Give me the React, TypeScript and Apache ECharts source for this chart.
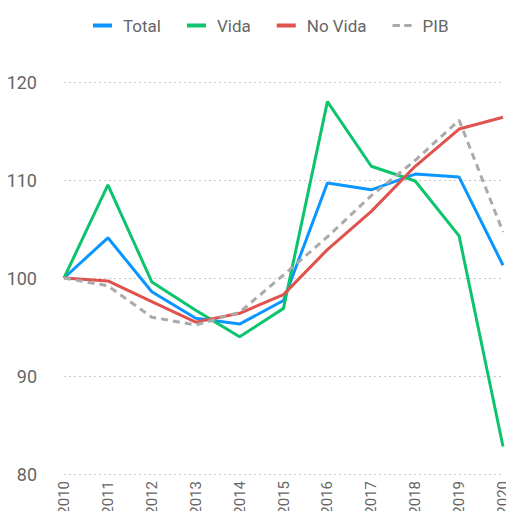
import React, { useEffect, useRef } from "react";
import * as echarts from "echarts";

const years = ["2010", "2011", "2012", "2013", "2014", "2015", "2016", "2017", "2018", "2019", "2020"];
const total = [100, 104.1, 98.6, 95.9, 95.3, 97.7, 109.7, 109.0, 110.6, 110.3, 101.3];
const vida = [100, 109.5, 99.6, 96.7, 94.0, 96.9, 118.0, 111.4, 109.9, 104.3, 82.8];
const noVida = [100, 99.7, 97.6, 95.5, 96.4, 98.3, 102.9, 106.8, 111.4, 115.2, 116.4];
const pib = [100, 99.2, 96.0, 95.2, 96.5, 100.3, 104.2, 108.4, 112.0, 116.1, 104.7];

const FONT = "Roboto, 'DejaVu Sans', sans-serif";

export default function App() {
  const ref = useRef<HTMLDivElement>(null);
  useEffect(() => {
    if (!ref.current) return;
    const chart = echarts.init(ref.current, null, { renderer: "svg" });
    const mk = (name: string, data: number[], color: string, dashed = false) => ({
      name,
      type: "line",
      data,
      symbol: "none",
      lineStyle: { color, width: 3, type: dashed ? [7, 5] : "solid" },
      itemStyle: { color },
    });
    chart.setOption({
      animation: false,
      textStyle: { fontFamily: FONT },
      legend: {
        top: 12,
        left: 88,
        itemWidth: 19,
        itemHeight: 4,
        itemGap: 26,
        textStyle: { color: "#666", fontSize: 17, fontFamily: FONT, padding: [0, 0, 0, 6] },
        data: [
          { name: "Total", icon: "rect" },
          { name: "Vida", icon: "rect" },
          { name: "No Vida", icon: "rect" },
          { name: "PIB", icon: "path://M0,0h7v3h-7z M11,0h7v3h-7z" },
        ],
      },
      grid: { left: 64, right: 11, top: 82, bottom: 45, outerBoundsMode: "none", containLabel: false },
      xAxis: {
        type: "category",
        data: years,
        boundaryGap: false,
        axisLine: { show: false },
        axisTick: { show: false },
        axisLabel: { rotate: 90, color: "#666", fontSize: 15, fontFamily: FONT, margin: 7 },
      },
      yAxis: {
        type: "value",
        min: 80,
        max: 120,
        interval: 10,
        axisLine: { show: false },
        axisTick: { show: false },
        axisLabel: { color: "#666", fontSize: 18, fontFamily: FONT, margin: 27 },
        splitLine: { lineStyle: { color: "#c8c8c8", type: [2, 3], width: 1 } },
      },
      series: [
        mk("Total", total, "#0A96FF"),
        mk("Vida", vida, "#0CC46C"),
        mk("No Vida", noVida, "#E0524E"),
        mk("PIB", pib, "#AAAAAA", true),
      ],
    });
    return () => chart.dispose();
  }, []);
  return <div ref={ref} style={{ width: 514, height: 519, margin: -8 }} />;
}
